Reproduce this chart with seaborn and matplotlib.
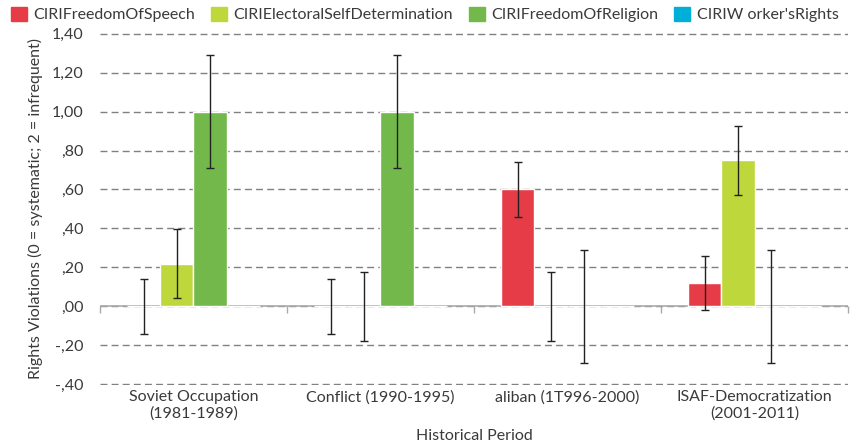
import matplotlib
matplotlib.use("Agg")
import matplotlib.pyplot as plt
import numpy as np
import pandas as pd
import seaborn as sns

periods = ["Soviet Occupation\n(1981-1989)", "Conflict (1990-1995)",
           "aliban (1T996-2000)", "ISAF-Democratization\n(2001-2011)"]
series = ["CIRIFreedomOfSpeech", "CIRIElectoralSelfDetermination",
          "CIRIFreedomOfReligion", "CIRIW orker'sRights"]
speech = [0.00, 0.00, 0.60, 0.12]
electoral = [0.22, 0.00, 0.00, 0.75]
religion = [1.00, 1.00, 0.00, 0.00]
workers = [0.00, 0.00, 0.00, 0.00]
speech_err = [0.14, 0.14, 0.14, 0.14]
electoral_err = [0.177, 0.177, 0.177, 0.177]
religion_err = [0.29, 0.29, 0.29, 0.29]
workers_err = [0.0, 0.0, 0.0, 0.0]
yticks = [-0.4, -0.2, 0.0, 0.2, 0.4, 0.6, 0.8, 1.0, 1.2, 1.4]
ytick_labels = ["-,40", "-,20", ",00", ",20", ",40", ",60", ",80", "1,00", "1,20", "1,40"]
colors = ["#E63C47", "#BED73B", "#73B84B", "#00AFD8"]

rows = []
for s, vals, errs in zip(series, [speech, electoral, religion, workers],
                         [speech_err, electoral_err, religion_err, workers_err]):
    for p, v, e in zip(periods, vals, errs):
        rows.append({"period": p, "series": s, "value": v, "err": e})
df = pd.DataFrame(rows)

sns.set_style("white")
plt.rcParams["font.family"] = ["Lato", "DejaVu Sans"]
txt = "#3a3a3a"

fig = plt.figure(figsize=(8.61, 4.47), dpi=100)
ax = fig.add_axes([0.116, 0.139, 0.869, 0.787])

sns.barplot(data=df, x="period", y="value", hue="series", order=periods,
            hue_order=series, palette=colors, errorbar=None, width=0.71,
            saturation=1, ax=ax, legend=True, zorder=3)

# error bars centred on each bar
for cont, s in zip(ax.containers, series):
    sub = df[df["series"] == s].set_index("period").loc[periods]
    for bar, (v, e) in zip(cont, zip(sub["value"], sub["err"])):
        if e > 0:
            ax.errorbar(bar.get_x() + bar.get_width() / 2, v, yerr=e,
                        color="#222222", lw=1, capsize=3, capthick=1, zorder=4)

ax.set_ylim(-0.403, 1.403)
ax.set_xlim(-0.5, len(periods) - 0.5)
ax.set_yticks(yticks)
ax.set_yticklabels(ytick_labels)
ax.yaxis.grid(True, color="#808080", linestyle=(0, (5, 3)), lw=1)
ax.set_axisbelow(True)
for sp in ax.spines.values():
    sp.set_visible(False)
ax.tick_params(axis="both", length=0, labelsize=11.5, colors=txt, pad=12)
ax.tick_params(axis="x", pad=4)
ax.axhline(0, color="#aaaaaa", lw=1.2, zorder=2)

# group boundary ticks on the zero line
zpos = (0 - ax.get_ylim()[0]) / (ax.get_ylim()[1] - ax.get_ylim()[0])
sec = ax.secondary_xaxis(zpos)
sec.set_xticks(np.arange(-0.5, len(periods), 1.0))
sec.set_xticklabels([])
sec.tick_params(length=5, color="#aaaaaa", direction="out", width=1)
sec.spines["bottom"].set_visible(False)

ax.set_xlabel("Historical Period", fontsize=11.5, color=txt, labelpad=6)
ax.set_ylabel("Rights Violations (0 = systematic; 2 = infrequent)",
              fontsize=11.5, color=txt, labelpad=6)

ax.get_legend().remove()
handles = [plt.Rectangle((0, 0), 1, 1, color=c) for c in colors]
fig.legend(handles, series, loc="upper left", bbox_to_anchor=(0.0, 1.01),
           ncol=4, frameon=False, fontsize=11.5, handlelength=1.0,
           handleheight=1.0, handletextpad=0.4, columnspacing=1.0,
           labelcolor=txt, borderaxespad=0.3)

fig.savefig("out.png", dpi=100)
